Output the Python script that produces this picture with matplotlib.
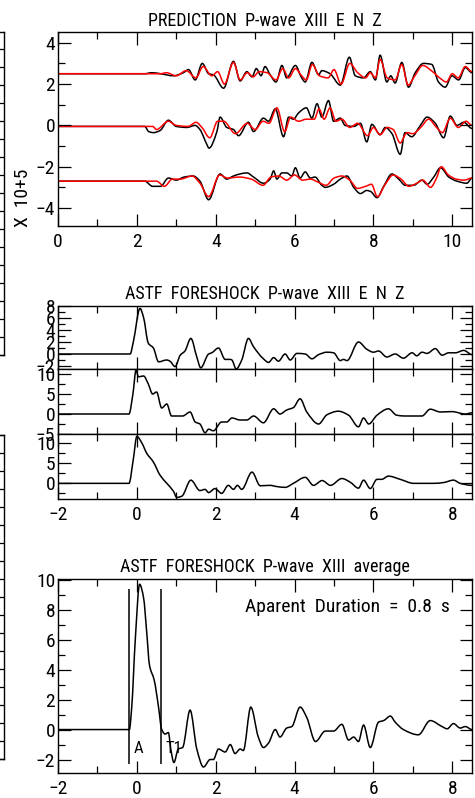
import matplotlib
matplotlib.use('Agg')
import matplotlib.pyplot as plt
import numpy as np
from matplotlib import font_manager
from matplotlib.font_manager import FontProperties
from matplotlib.ticker import MultipleLocator
from matplotlib.path import Path
from matplotlib.patches import PathPatch

def pick_font():
    for f in ['Liberation Sans Narrow', 'Roboto Condensed', 'DejaVu Sans']:
        try:
            font_manager.findfont(FontProperties(family=f), fallback_to_default=False)
            return f
        except Exception:
            pass
    return 'DejaVu Sans'

FONT = pick_font()
plt.rcParams['font.family'] = [FONT, 'DejaVu Sans']

# ---------------- data ----------------
# Top panel: PREDICTION (observed black, predicted red), offsets 2.5 / 0 / -2.7
e_obs_t = [0, 2.2, 2.38, 2.6, 2.93, 3.18, 3.31, 3.48, 3.66, 3.82, 3.94, 4.2, 4.45, 4.62, 4.79, 4.92, 5.03, 5.15, 5.25, 5.38, 5.53, 5.68, 5.8, 6.02, 6.18, 6.27, 6.44, 6.61, 6.69, 6.9, 7.16, 7.39, 7.54, 7.75, 7.92, 8.05, 8.17, 8.34, 8.44, 8.55, 8.72, 8.89, 9.06, 9.27, 9.48, 9.65, 9.82, 9.99, 10.16, 10.33, 10.5]
e_obs_v = [2.5, 2.5, 2.55, 2.5, 2.4, 2.55, 2.7, 2.2, 3.0, 2.5, 2.45, 1.8, 3.1, 2.15, 2.6, 2.35, 2.75, 2.4, 2.85, 2.45, 2.1, 2.9, 2.3, 2.9, 2.3, 2.1, 3.05, 2.45, 2.65, 2.5, 1.95, 3.3, 2.4, 2.3, 2.6, 2.2, 3.4, 2.1, 2.4, 2.05, 3.05, 1.85, 2.55, 3.0, 2.95, 2.1, 1.85, 2.4, 2.2, 2.8, 2.55]
e_pre_t = [0, 2.6, 2.75, 3.0, 3.25, 3.5, 3.68, 3.9, 4.05, 4.22, 4.45, 4.62, 4.8, 4.95, 5.1, 5.3, 5.53, 5.7, 5.85, 6.02, 6.18, 6.3, 6.45, 6.63, 6.85, 7.0, 7.18, 7.4, 7.6, 7.8, 7.92, 8.05, 8.17, 8.35, 8.55, 8.72, 8.88, 9.05, 9.25, 9.5, 9.68, 9.85, 10.0, 10.15, 10.33, 10.5]
e_pre_v = [2.5, 2.5, 2.55, 2.4, 2.65, 2.3, 2.85, 2.4, 2.6, 2.0, 3.05, 2.2, 2.55, 2.35, 2.6, 2.55, 2.2, 2.75, 2.3, 2.75, 2.4, 2.2, 2.95, 2.4, 2.3, 2.7, 2.0, 3.0, 2.55, 2.3, 2.55, 2.3, 3.2, 2.3, 2.2, 2.95, 1.95, 2.4, 2.9, 2.6, 2.3, 2.1, 2.5, 2.3, 2.85, 2.6]

n_obs_t = [0, 2.2, 2.3, 2.42, 2.59, 2.8, 3.0, 3.27, 3.48, 3.6, 3.77, 3.83, 4.03, 4.11, 4.28, 4.45, 4.58, 4.83, 4.96, 5.21, 5.34, 5.51, 5.72, 5.85, 5.97, 6.1, 6.3, 6.44, 6.57, 6.69, 6.86, 6.99, 7.16, 7.28, 7.5, 7.67, 7.83, 7.96, 8.17, 8.3, 8.47, 8.68, 8.8, 8.97, 9.19, 9.36, 9.57, 9.78, 9.95, 10.12, 10.29, 10.5]
n_obs_v = [-0.05, -0.05, -0.3, -0.35, -0.25, 0.25, -0.05, -0.1, 0.0, -0.2, -0.9, -1.1, -0.3, 0.4, -0.1, -0.2, -0.5, 0.15, -0.3, 0.35, 0.2, 0.8, -0.55, 0.4, 0.3, 0.6, 0.85, 0.35, 1.05, 0.4, 1.2, 0.2, 0.35, 0.0, -0.05, 0.1, -0.8, 0.05, -0.45, -0.1, -0.4, -1.4, -0.35, -0.55, 0.0, 0.4, 0.1, -0.6, 0.45, 0.0, 0.15, -0.15]
n_pre_t = [0, 2.4, 2.5, 2.8, 3.0, 3.3, 3.5, 3.65, 3.85, 4.05, 4.2, 4.5, 4.8, 5.0, 5.2, 5.35, 5.55, 5.75, 5.9, 6.1, 6.3, 6.5, 6.62, 6.75, 6.9, 7.05, 7.2, 7.4, 7.6, 7.85, 8.0, 8.17, 8.35, 8.5, 8.68, 8.85, 9.0, 9.2, 9.4, 9.6, 9.75, 9.95, 10.15, 10.35, 10.5]
n_pre_v = [-0.05, -0.05, -0.2, 0.2, 0.0, -0.05, 0.15, -0.1, -0.6, 0.2, 0.2, -0.4, 0.1, -0.2, 0.2, 0.1, 0.85, -0.3, 0.4, 0.2, 0.3, 0.3, 0.8, 0.3, 0.85, 0.2, 0.3, -0.1, 0.1, -0.5, -0.1, -0.45, -0.1, -0.2, -0.85, -0.35, -0.4, -0.1, 0.3, -0.1, -0.35, 0.35, -0.1, 0.2, 0.0]

z_obs_t = [0, 2.2, 2.4, 2.6, 2.8, 3.0, 3.2, 3.43, 3.6, 3.82, 4.11, 4.28, 4.45, 4.62, 4.79, 4.96, 5.21, 5.38, 5.47, 5.55, 5.68, 5.8, 5.93, 6.02, 6.14, 6.27, 6.4, 6.52, 6.69, 6.78, 6.99, 7.16, 7.33, 7.5, 7.67, 7.83, 7.93, 8.09, 8.26, 8.47, 8.64, 8.81, 9.02, 9.23, 9.36, 9.53, 9.7, 9.91, 10.12, 10.37, 10.5]
z_obs_v = [-2.7, -2.7, -2.95, -2.95, -2.55, -2.65, -2.5, -2.45, -2.7, -3.6, -2.35, -2.6, -2.45, -2.35, -2.3, -2.5, -2.8, -2.6, -2.2, -2.6, -2.3, -2.3, -2.45, -2.05, -2.55, -2.25, -2.55, -2.5, -2.9, -3.0, -2.85, -2.6, -2.45, -3.0, -3.3, -3.15, -3.2, -3.5, -2.95, -2.35, -2.6, -2.9, -2.9, -2.65, -2.85, -2.5, -2.05, -2.5, -2.7, -2.8, -2.55]
z_pre_t = [0, 2.5, 2.7, 2.9, 3.1, 3.4, 3.6, 3.82, 4.1, 4.3, 4.6, 4.9, 5.2, 5.4, 5.6, 5.8, 6.0, 6.2, 6.4, 6.6, 6.8, 7.0, 7.2, 7.4, 7.6, 7.8, 7.95, 8.1, 8.3, 8.5, 8.7, 8.9, 9.1, 9.25, 9.45, 9.6, 9.72, 9.9, 10.1, 10.3, 10.5]
z_pre_v = [-2.7, -2.7, -2.95, -2.6, -2.6, -2.45, -2.8, -3.45, -2.4, -2.55, -2.5, -2.6, -2.9, -2.5, -2.45, -2.65, -2.4, -2.65, -2.6, -2.75, -2.9, -2.55, -2.45, -2.65, -3.05, -2.95, -2.85, -3.45, -2.85, -2.4, -2.6, -2.95, -2.8, -2.65, -3.0, -2.55, -2.0, -2.4, -2.6, -2.65, -2.55]

# Middle panel: ASTF E / N / Z
astf_e_t = [-2, -0.17, -0.09, 0.08, 0.17, 0.29, 0.42, 0.55, 0.76, 0.84, 0.97, 1.1, 1.22, 1.37, 1.52, 1.62, 1.82, 1.9, 2.07, 2.24, 2.37, 2.41, 2.52, 2.66, 2.83, 2.96, 3.21, 3.34, 3.47, 3.59, 3.76, 3.89, 4.06, 4.27, 4.44, 4.61, 4.82, 4.99, 5.16, 5.24, 5.33, 5.62, 5.83, 6.0, 6.13, 6.34, 6.55, 6.76, 6.98, 7.1, 7.23, 7.36, 7.57, 7.74, 7.91, 8.08, 8.29, 8.5]
astf_e_v = [0, 0, 2.0, 7.6, 6.1, 1.8, 1.0, -1.3, -1.0, -1.2, -2.1, -0.2, 0.5, 2.6, -0.5, -2.3, 0.0, 0.2, 1.0, -0.9, -0.9, -1.0, -2.5, -1.0, 2.6, 1.2, -0.8, -1.4, -0.6, -1.2, 0.0, -1.0, 0.1, 0.0, -0.8, -0.1, 0.3, 0.2, -1.1, -0.9, -1.1, 2.0, 0.8, 0.3, 0.5, -0.5, 0.0, -0.7, 0.2, -0.3, 0.3, 0.1, 0.9, -0.2, 0.2, 0.2, 0.6, -0.1]
astf_n_t = [-2, -0.2, -0.1, -0.02, 0.04, 0.17, 0.29, 0.4, 0.5, 0.63, 0.76, 0.88, 1.01, 1.16, 1.35, 1.48, 1.6, 1.73, 1.82, 1.94, 2.15, 2.28, 2.41, 2.62, 2.79, 2.96, 3.21, 3.47, 3.63, 3.8, 3.97, 4.14, 4.31, 4.61, 4.82, 5.11, 5.37, 5.62, 5.75, 5.88, 6.09, 6.38, 6.59, 6.8, 7.02, 7.23, 7.44, 7.7, 7.99, 8.33, 8.5]
astf_n_v = [0, 0, 5.0, 11.0, 9.3, 9.5, 7.5, 5.0, 5.5, 1.5, 2.5, -0.5, -0.5, -0.5, 0.5, -2.0, -2.5, -4.7, -3.8, -4.2, -2.0, -2.0, -1.0, -1.5, -1.5, -0.5, -2.2, 1.3, 0.0, 1.0, 1.6, 3.8, 0.5, -2.5, -0.2, 0.7, -0.3, -3.2, -1.0, -2.5, -0.3, 1.3, -0.3, -0.5, -0.5, -0.5, 1.2, 0.5, 0.6, 0.0, 0.3]
astf_z_t = [-2, -0.2, -0.09, 0.0, 0.13, 0.25, 0.42, 0.59, 0.76, 0.93, 1.01, 1.14, 1.37, 1.6, 1.73, 1.82, 1.98, 2.15, 2.32, 2.45, 2.55, 2.66, 2.92, 3.13, 3.38, 3.55, 3.76, 3.97, 4.27, 4.48, 4.7, 4.91, 5.2, 5.41, 5.62, 5.75, 5.92, 6.09, 6.21, 6.38, 6.68, 7.02, 7.53, 7.78, 8.03, 8.2, 8.5]
astf_z_v = [0, 0, 6.0, 11.7, 10.0, 7.5, 5.3, 2.0, 0.0, -2.0, -3.5, -3.2, 0.8, -1.8, -1.5, -2.3, -1.3, -2.5, -0.5, -1.5, -0.5, -1.5, 2.8, -0.6, -0.5, -0.8, -1.0, 0.0, 1.5, -0.5, 0.7, -0.5, 1.2, 0.3, -1.2, 0.8, -1.3, 1.0, 1.0, 1.8, 1.0, 0.0, 0.0, 0.2, 0.8, 0.0, -0.5]

# Bottom panel: average ASTF
avg_t = [-2, -0.19, -0.13, -0.04, 0.07, 0.17, 0.25, 0.32, 0.44, 0.55, 0.63, 0.72, 0.8, 0.86, 0.94, 1.05, 1.16, 1.35, 1.52, 1.69, 1.86, 1.94, 2.07, 2.24, 2.37, 2.49, 2.62, 2.7, 2.89, 3.08, 3.21, 3.34, 3.51, 3.63, 3.8, 3.93, 4.14, 4.31, 4.53, 4.78, 4.99, 5.2, 5.37, 5.5, 5.62, 5.75, 5.92, 6.13, 6.26, 6.43, 6.55, 6.76, 7.14, 7.44, 7.74, 7.87, 8.03, 8.2, 8.33, 8.5]
avg_v = [0, 0, 1.5, 6.0, 9.7, 8.8, 6.5, 4.3, 3.3, 1.5, 0.0, -0.3, -0.2, -1.3, -2.2, -1.3, -1.2, 1.3, -1.3, -2.5, -2.0, -2.0, -1.3, -1.5, -1.0, -1.6, -1.3, -1.4, 1.5, -0.5, -1.2, -0.9, 0.0, -0.5, 0.1, 0.2, 1.5, 0.8, -0.8, -0.1, -0.1, 0.35, -0.7, -0.5, -0.8, 0.3, -1.2, 0.5, 0.6, 0.9, 0.5, 0.0, -0.35, 0.6, 0.2, 0.05, 0.4, 0.1, 0.2, 0.0]

marker_t = [-0.2, 0.6]
marker_labels = ['A', 'T1']
duration_text = 'Aparent  Duration  =  0.8  s'

titles = ['PREDICTION  P-wave  XIII  E  N  Z',
          'ASTF  FORESHOCK  P-wave  XIII  E  N  Z',
          'ASTF  FORESHOCK  P-wave  XIII  average']
exp_label = 'X  10+5'

# ---------------- helpers ----------------
W, H = 475, 798
fig = plt.figure(figsize=(W / 100, H / 100), dpi=100)
FS = 14
TFS = 13


def fx(px):
    return px / W


def fy(py):
    return 1 - py / H


def rect(x0, y0, x1, y1):
    return [fx(x0), fy(y1), fx(x1) - fx(x0), fy(y0) - fy(y1)]


def trace(ax, t, v, color, lw=1.0):
    """Draw a smooth (monotone cubic Bezier) curve through the read points."""
    t = np.asarray(t, float)
    v = np.asarray(v, float)
    h = np.diff(t)
    d = np.diff(v) / h
    m = np.zeros_like(v)
    for k in range(1, len(v) - 1):
        if d[k - 1] * d[k] > 0:
            w1 = 2 * h[k] + h[k - 1]
            w2 = h[k] + 2 * h[k - 1]
            m[k] = (w1 + w2) / (w1 / d[k - 1] + w2 / d[k])
    verts = [(t[0], v[0])]
    codes = [Path.MOVETO]
    for k in range(len(h)):
        verts += [(t[k] + h[k] / 3, v[k] + m[k] * h[k] / 3),
                  (t[k + 1] - h[k] / 3, v[k + 1] - m[k + 1] * h[k] / 3),
                  (t[k + 1], v[k + 1])]
        codes += [Path.CURVE4] * 3
    ax.add_patch(PathPatch(Path(verts, codes), fill=False, edgecolor=color,
                           lw=lw, joinstyle='round', capstyle='round'))


def style(ax, xmaj, xmin, ymaj, ymin, xlabels=True):
    ax.xaxis.set_major_locator(MultipleLocator(xmaj))
    ax.xaxis.set_minor_locator(MultipleLocator(xmin))
    ax.yaxis.set_major_locator(MultipleLocator(ymaj))
    ax.yaxis.set_minor_locator(MultipleLocator(ymin))
    ax.tick_params(which='both', direction='in', top=True, right=True,
                   labelsize=FS, width=0.9)
    ax.tick_params(which='major', length=9)
    ax.tick_params(which='minor', length=5)
    ax.tick_params(axis='y', pad=2)
    ax.tick_params(axis='x', pad=5, labelbottom=xlabels)
    for s in ax.spines.values():
        s.set_linewidth(1.0)


LW = 1.1

# top panel
ax1 = fig.add_axes(rect(58, 32, 472, 226))
ax1.set_xlim(0, 10.5)
ax1.set_ylim(-4.87, 4.52)
for tt, vv in [(e_obs_t, e_obs_v), (n_obs_t, n_obs_v), (z_obs_t, z_obs_v)]:
    trace(ax1, tt, vv, 'black', LW)
for tt, vv in [(e_pre_t, e_pre_v), (n_pre_t, n_pre_v), (z_pre_t, z_pre_v)]:
    trace(ax1, tt, vv, 'red', LW)
style(ax1, 2, 1, 2, 1)
ax1.set_title(titles[0], fontsize=TFS, pad=4)
fig.text(fx(23), fy(198), exp_label, rotation=90, ha='center', va='center', fontsize=FS)

# middle panels
mid = [(306, 369, astf_e_t, astf_e_v, (-2.5, 8.0), 2, 1),
       (369, 434, astf_n_t, astf_n_v, (-5.0, 11.25), 5, 2.5),
       (434, 499, astf_z_t, astf_z_v, (-3.9, 12.3), 5, 2.5)]
mid_axes = []
for i, (y0, y1, tt, vv, yl, ym, yn) in enumerate(mid):
    ax = fig.add_axes(rect(58, y0, 472, y1))
    ax.set_xlim(-2, 8.5)
    ax.set_ylim(*yl)
    trace(ax, tt, vv, 'black', LW)
    style(ax, 2, 1, ym, yn, xlabels=(i == 2))
    mid_axes.append(ax)
mid_axes[0].set_title(titles[1], fontsize=TFS, pad=5)

# bottom panel
ax3 = fig.add_axes(rect(58, 579, 472, 773))
ax3.set_xlim(-2, 8.5)
ax3.set_ylim(-2.9, 10.05)
trace(ax3, avg_t, avg_v, 'black', LW)
style(ax3, 2, 1, 2, 1)
ax3.set_title(titles[2], fontsize=TFS, pad=5)
ax3.vlines(marker_t, -2.27, 9.4, color='black', lw=LW)
ax3.text(marker_t[0] + 0.23, -1.27, marker_labels[0], ha='center', va='center', fontsize=FS - 2)
ax3.text(marker_t[1] + 0.34, -1.27, marker_labels[1], ha='center', va='center', fontsize=FS - 2)
ax3.text(7.94, 8.2, duration_text, ha='right', va='center', fontsize=FS)

# cropped neighbouring panels at the far left edge
for (y0, y1) in [(32, 355), (435, 759)]:
    axl = fig.add_axes(rect(-200, y0, 3.5, y1))
    axl.set_xlim(0, 1)
    axl.set_ylim(0, (y1 - y0) / 18.0)
    axl.yaxis.set_major_locator(MultipleLocator(1))
    axl.tick_params(axis='y', which='both', direction='in', left=False, right=True,
                    labelleft=False, length=4, width=0.9)
    axl.tick_params(axis='x', bottom=False, labelbottom=False)
    for s in axl.spines.values():
        s.set_linewidth(1.0)

fig.savefig('out.png', dpi=100)
